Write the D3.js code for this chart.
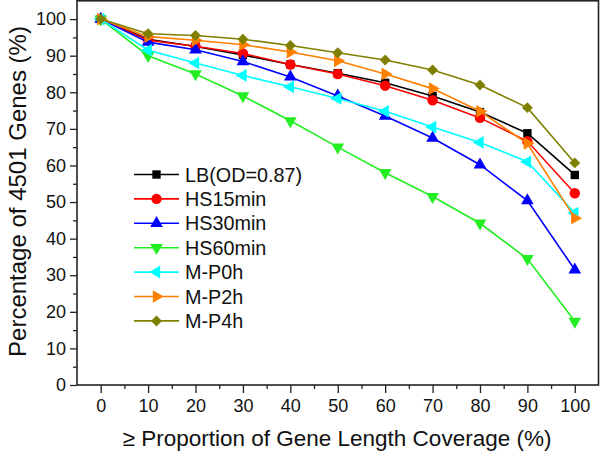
<!DOCTYPE html>
<html>
<head>
<meta charset="utf-8">
<script src="https://cdn.jsdelivr.net/npm/d3@7/dist/d3.min.js"></script>
<style>
  html, body { margin: 0; padding: 0; background: #fff; }
  svg { display: block; font-family: "Liberation Sans", Arial, Helvetica, sans-serif; }
</style>
</head>
<body>
<svg id="chart" width="600" height="452"></svg>
<script>
// ---- data ----
const coverage = [0, 10, 20, 30, 40, 50, 60, 70, 80, 90, 100];
const seriesNames = ["LB(OD=0.87)", "HS15min", "HS30min", "HS60min", "M-P0h", "M-P2h", "M-P4h"];
const LB      = [100, 94.5, 92.5, 90.2, 87.6, 85.2, 82.6, 79.0, 74.6, 68.8, 57.4];
const HS15    = [100, 94.2, 92.6, 90.6, 87.6, 85.0, 81.8, 77.8, 73.0, 66.6, 52.4];
const HS30    = [100, 93.7, 91.6, 88.4, 84.2, 79.0, 73.5, 67.5, 60.2, 50.4, 31.5];
const HS60    = [100, 90.0, 85.0, 79.0, 72.2, 65.0, 58.0, 51.5, 44.2, 34.5, 17.4];
const MP0h    = [100, 91.5, 88.0, 84.6, 81.5, 78.3, 74.8, 70.5, 66.3, 61.0, 47.0];
const MP2h    = [100, 95.2, 94.2, 93.0, 91.0, 88.6, 85.0, 81.0, 74.8, 66.0, 45.6];
const MP4h    = [100, 96.0, 95.5, 94.5, 92.8, 90.8, 88.8, 86.1, 82.0, 75.8, 60.7];
const allValues = [LB, HS15, HS30, HS60, MP0h, MP2h, MP4h];
const colors = ["#000000", "#ff0000", "#0000ff", "#22ee22", "#00ffff", "#ff8000", "#808000"];
const xTicks = [0, 10, 20, 30, 40, 50, 60, 70, 80, 90, 100];
const yTicks = [0, 10, 20, 30, 40, 50, 60, 70, 80, 90, 100];
const xTitle = "\u2265 Proportion of Gene Length Coverage (%)";
const yTitle = "Percentage of 4501 Genes (%)";

// ---- layout ----
const svg = d3.select("#chart");
const L = 77, R = 598.5, T = 0.8, B = 385;
const x = d3.scaleLinear().domain([-5, 105]).range([L, R]);
const y = d3.scaleLinear().domain([0, 105]).range([B, T]);

// marker symbols
const sym = [
  {type: d3.symbolSquare, size: 70, rot: 0},
  {type: d3.symbolCircle, size: 85, rot: 0},
  {type: d3.symbolTriangle, size: 70, rot: 0},
  {type: d3.symbolTriangle, size: 70, rot: 180},
  {type: d3.symbolTriangle, size: 70, rot: -90},
  {type: d3.symbolTriangle, size: 70, rot: 90},
  {type: d3.symbolSquare, size: 60, rot: 45}
];

// axes
const minorX = d3.range(-5, 106, 5).filter(v => v % 10 !== 0 && v > -5 && v < 105);
const minorY = d3.range(5, 105, 10);

const xAxis = svg.append("g").attr("transform", `translate(0,${B})`)
  .call(d3.axisBottom(x).tickValues(xTicks).tickSize(8).tickPadding(6).tickFormat(d3.format("d")));
const xMinor = svg.append("g").attr("transform", `translate(0,${B})`)
  .call(d3.axisBottom(x).tickValues(minorX).tickSize(4).tickFormat(""));
const yAxis = svg.append("g").attr("transform", `translate(${L},0)`)
  .call(d3.axisLeft(y).tickValues(yTicks).tickSize(7).tickPadding(4).tickFormat(d3.format("d")));
const yMinor = svg.append("g").attr("transform", `translate(${L},0)`)
  .call(d3.axisLeft(y).tickValues(minorY).tickSize(4).tickFormat(""));

[xAxis, xMinor, yAxis, yMinor].forEach(g => {
  g.select(".domain").remove();
  g.selectAll("line").attr("stroke", "#222").attr("stroke-width", 1.3);
  g.selectAll("text").attr("fill", "#111").attr("font-size", 18)
    .attr("font-family", "Liberation Sans, Arial, sans-serif");
});

// frame
svg.append("rect").attr("x", L).attr("y", T).attr("width", R - L).attr("height", B - T)
  .attr("fill", "none").attr("stroke", "#222").attr("stroke-width", 1.6);

// series
const line = d3.line().x((d, i) => x(coverage[i])).y(d => y(d));
allValues.forEach((vals, s) => {
  const g = svg.append("g");
  g.append("path").datum(vals).attr("d", line)
    .attr("fill", "none").attr("stroke", colors[s]).attr("stroke-width", 1.6);
  g.selectAll("path.m").data(vals).join("path").attr("class", "m")
    .attr("d", d3.symbol().type(sym[s].type).size(sym[s].size))
    .attr("transform", (d, i) => `translate(${x(coverage[i])},${y(d)}) rotate(${sym[s].rot})`)
    .attr("fill", colors[s]);
});

// legend
const legX1 = 134, legX2 = 179, legY0 = 174.5, legDy = 24.4;
seriesNames.forEach((name, s) => {
  const yy = legY0 + s * legDy;
  svg.append("line").attr("x1", legX1).attr("x2", legX2).attr("y1", yy).attr("y2", yy)
    .attr("stroke", colors[s]).attr("stroke-width", 1.6);
  svg.append("path")
    .attr("d", d3.symbol().type(sym[s].type).size(sym[s].size)())
    .attr("transform", `translate(${(legX1 + legX2) / 2},${yy}) rotate(${sym[s].rot})`)
    .attr("fill", colors[s]);
  svg.append("text").attr("x", 185).attr("y", yy).attr("dy", "0.36em")
    .attr("font-size", 19.8).attr("fill", "#111").text(name);
});

// axis titles
svg.append("text").attr("x", 337).attr("y", 438).attr("dy", "0.36em")
  .attr("text-anchor", "middle").attr("font-size", 22.5).attr("fill", "#111").text(xTitle);
svg.append("text").attr("transform", `translate(17,${191.5}) rotate(-90)`).attr("dy", "0.36em")
  .attr("text-anchor", "middle").attr("font-size", 24).attr("fill", "#111").text(yTitle);
</script>
</body>
</html>
